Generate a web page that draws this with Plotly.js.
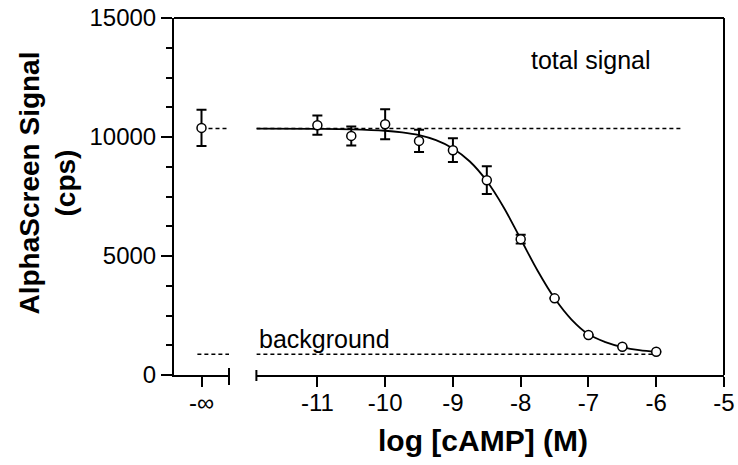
<!DOCTYPE html>
<html>
<head>
<meta charset="utf-8">
<script src="https://cdn.plot.ly/plotly-3.0.1.min.js"></script>
<style>html,body{margin:0;padding:0;background:#fff;}#chart{width:738px;height:465px;}</style>
</head>
<body>
<div id="chart"></div>
<script>
// ---- data ----
const logConc = [-11, -10.5, -10, -9.5, -9, -8.5, -8, -7.5, -7, -6.5, -6];
const signal  = [10495, 10046, 10537, 9836, 9446, 8186, 5709, 3220, 1679, 1188, 978];
const sem     = [405, 400, 630, 470, 500, 580, 180, 0, 0, 0, 0];
const zeroX = [0];             // position of the "-∞" (no cAMP) point on the broken segment
const zeroSignal = [10382];
const zeroSem = [760];
const fitX = [-11.9, -11, -10.5, -10, -9.75, -9.5, -9.25, -9, -8.75, -8.5, -8.25, -8, -7.75, -7.5, -7.25, -7, -6.75, -6.5, -6.25, -6];
const fitY = [10350, 10342, 10322, 10262, 10192, 10075, 9866, 9520, 8970, 8150, 7040, 5715, 4380, 3222, 2330, 1710, 1385, 1175, 1043, 968];
const totalSignal = 10357;
const background = 869;
const totalX = [-11.9, -5.6];
const backX = [-11.9, -6];
const zeroSegTotalX = [0, 1];
const zeroSegBackX = [-0.15, 1];
const mainTicks = [-11, -10, -9, -8, -7, -6, -5];
const mainTickText = ['-11', '-10', '-9', '-8', '-7', '-6', '-5'];
const zeroTicks = [0];
const zeroTickText = ['-\u221E'];
const yTicks = [0, 5000, 10000, 15000];
const yTickText = ['0', '5000', '10000', '15000'];

const FONT = 'Liberation Sans, Arial, Helvetica, sans-serif';
const dashStyle = {color: 'black', width: 1.5, dash: '4px,3px'};

const traces = [
  {x: zeroSegTotalX, y: zeroSegTotalX.map(() => totalSignal), xaxis: 'x', yaxis: 'y', mode: 'lines', line: dashStyle, hoverinfo: 'skip'},
  {x: zeroSegBackX, y: zeroSegBackX.map(() => background), xaxis: 'x', yaxis: 'y', mode: 'lines', line: dashStyle, hoverinfo: 'skip'},
  {x: totalX, y: totalX.map(() => totalSignal), xaxis: 'x2', yaxis: 'y', mode: 'lines', line: dashStyle, hoverinfo: 'skip'},
  {x: backX, y: backX.map(() => background), xaxis: 'x2', yaxis: 'y', mode: 'lines', line: dashStyle, hoverinfo: 'skip'},
  {x: fitX, y: fitY, xaxis: 'x2', yaxis: 'y', mode: 'lines', line: {color: 'black', width: 1.8, shape: 'spline', smoothing: 1}},
  {x: logConc, y: signal, xaxis: 'x2', yaxis: 'y', mode: 'markers',
   marker: {symbol: 'circle', size: 9, color: 'white', line: {color: 'black', width: 1.5}},
   error_y: {type: 'data', array: sem, visible: true, color: 'black', thickness: 2, width: 5}},
  {x: zeroX, y: zeroSignal, xaxis: 'x', yaxis: 'y', mode: 'markers',
   marker: {symbol: 'circle', size: 9, color: 'white', line: {color: 'black', width: 1.5}},
   error_y: {type: 'data', array: zeroSem, visible: true, color: 'black', thickness: 2, width: 5}}
];

const axisCommon = {
  showgrid: false, zeroline: false, showline: true, linecolor: 'black', linewidth: 2,
  ticks: 'outside', ticklen: 10, tickwidth: 2, tickcolor: 'black',
  tickfont: {family: FONT, size: 24, color: 'black'}, fixedrange: true
};

const layout = {
  width: 738, height: 465,
  margin: {l: 174, r: 14, t: 18, b: 90},
  paper_bgcolor: 'white', plot_bgcolor: 'white',
  showlegend: false,
  font: {family: FONT, color: 'black'},
  xaxis: Object.assign({}, axisCommon, {domain: [0, 0.1], range: [-1, 1], anchor: 'y',
    tickmode: 'array', tickvals: zeroTicks, ticktext: zeroTickText, ticklabelstandoff: -5}),
  xaxis2: Object.assign({}, axisCommon, {domain: [0.1498, 1], range: [-11.9, -5], anchor: 'y',
    tickmode: 'array', tickvals: mainTicks, ticktext: mainTickText, ticklabelstandoff: -5}),
  yaxis: Object.assign({}, axisCommon, {range: [0, 15000], anchor: 'x', ticklen: 11,
    tickmode: 'array', tickvals: yTicks, ticktext: yTickText,
    minor: {dtick: 1250, ticks: 'outside', ticklen: 6, tickwidth: 2, tickcolor: 'black', showgrid: false}}),
  shapes: [
    {type: 'line', xref: 'paper', yref: 'paper', x0: 0, x1: 1, y0: 1, y1: 1, line: {color: 'black', width: 2}},
    {type: 'line', xref: 'paper', yref: 'paper', x0: 1, x1: 1, y0: 0, y1: 1, line: {color: 'black', width: 2}},
    {type: 'line', xref: 'paper', yref: 'paper', ysizemode: 'pixel', yanchor: 0, x0: 0.1, x1: 0.1, y0: -10, y1: 7, line: {color: 'black', width: 2}},
    {type: 'line', xref: 'paper', yref: 'paper', ysizemode: 'pixel', yanchor: 0, x0: 0.1498, x1: 0.1498, y0: -6, y1: 5, line: {color: 'black', width: 2}}
  ],
  annotations: [
    {text: 'total signal', xref: 'paper', yref: 'paper', x: 0.645, y: 0.8816, xanchor: 'left', yanchor: 'middle',
     showarrow: false, font: {family: FONT, size: 25, color: 'black'}},
    {text: 'background', xref: 'paper', yref: 'paper', x: 0.151, y: 0.1008, xanchor: 'left', yanchor: 'middle',
     showarrow: false, font: {family: FONT, size: 25, color: 'black'}},
    {text: '<b>log [cAMP] (M)</b>', xref: 'paper', yref: 'paper', x: (483 - 174) / 550, y: -(440 - 375) / 357, xanchor: 'center', yanchor: 'middle',
     showarrow: false, font: {family: FONT, size: 30, color: 'black'}},
    {text: '<b>AlphaScreen Signal<br>(cps)</b>', xref: 'paper', yref: 'paper', x: -(174 - 46.5) / 550, y: (375 - 183) / 357, xanchor: 'center', yanchor: 'middle',
     textangle: -90, showarrow: false, font: {family: FONT, size: 28, color: 'black'}}
  ]
};

Plotly.newPlot('chart', traces, layout, {staticPlot: true, displayModeBar: false});
</script>
</body>
</html>
